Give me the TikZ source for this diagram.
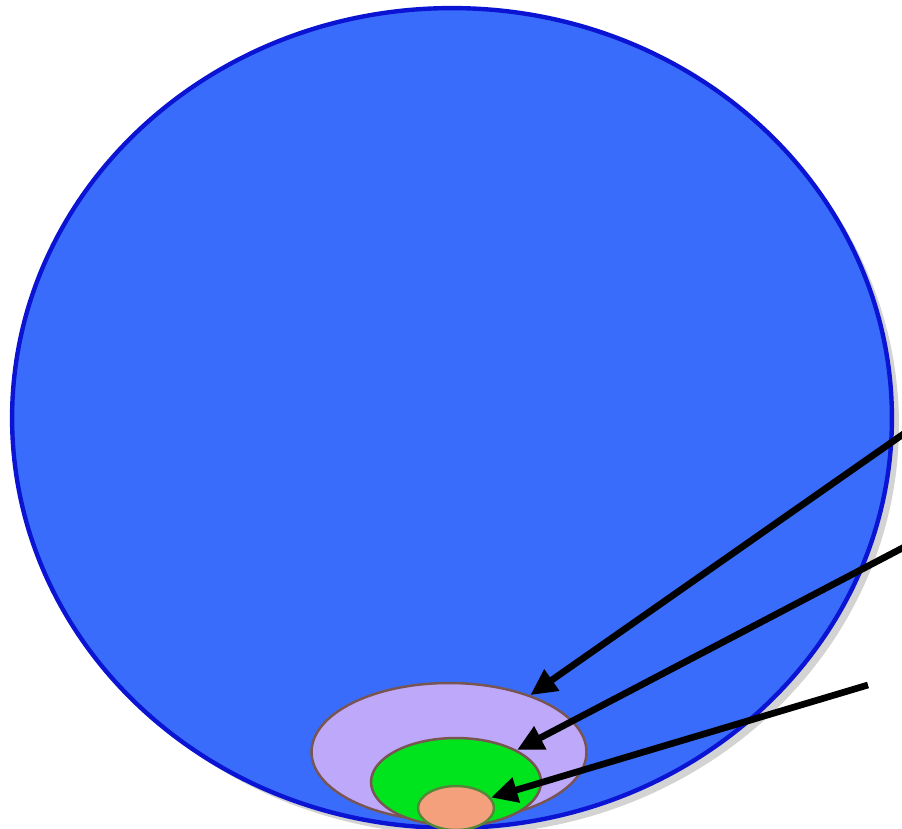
\documentclass[tikz,border=0pt]{standalone}
\usepackage{tikz}
\usetikzlibrary{shapes.geometric,shadows,arrows.meta}

\definecolor{seablue}{RGB}{58,108,252}
\definecolor{seaedge}{RGB}{10,20,210}
\definecolor{lavfill}{RGB}{190,168,250}
\definecolor{ringedge}{RGB}{120,85,80}
\definecolor{grnfill}{RGB}{0,228,30}
\definecolor{orgfill}{RGB}{245,160,125}

\begin{document}
\begin{tikzpicture}[x=0.02cm, y=-0.02cm,
  pointer/.style={line width=3.8pt, -{Triangle[length=15pt, width=14pt]}}]
		\useasboundingbox (0,0) rectangle (902,828);
		% Outer circle
		\node (outer) [draw=seaedge, line width=2.5pt, fill=seablue, ellipse, inner sep=0pt,
			minimum width=17.6cm, minimum height=16.4cm,
			drop shadow={shadow xshift=4pt, shadow yshift=-4pt, opacity=0.35}] at (452,418) {};
		
		% Nested rings (bottom)
		\node (lavender) [draw=ringedge, line width=1.4pt, fill=lavfill, ellipse, inner sep=0pt,
			minimum width=5.5cm, minimum height=2.76cm] at (449,752) {};
		\node (green) [draw=ringedge, line width=1.4pt, fill=grnfill, ellipse, inner sep=0pt,
			minimum width=3.4cm, minimum height=1.76cm] at (456,782) {};
		\node (orange) [draw=ringedge!70!green, line width=1.4pt, fill=orgfill, ellipse, inner sep=0pt,
			minimum width=1.52cm, minimum height=0.88cm] at (456,808) {};
		
		% Pointer starts (right edge)
		\coordinate (startA) at (912,428);
		\coordinate (startB) at (912,543);
		\coordinate (startC) at (868,685);
		
		\draw[pointer] (startA) -- (lavender);
		\draw[pointer] (startB) -- (green);
		\draw[pointer] (startC) -- (orange);
	\end{tikzpicture}
\end{document}
